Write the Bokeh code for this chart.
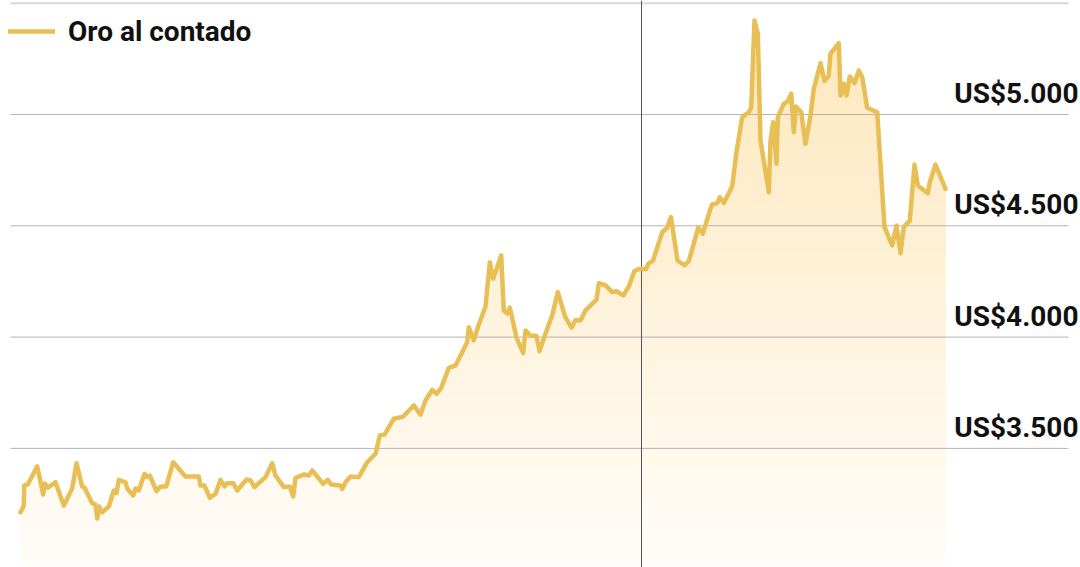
import numpy as np
from bokeh.plotting import figure
from bokeh.models import Range1d, Legend, LegendItem
from bokeh.embed import file_html
from bokeh.resources import INLINE

# ---- data (time position of each observation, spot gold price in US$) ----
t = [0, 3.3, 3.6, 7.3, 16.7, 22.7, 24.3, 27.3, 35, 43.3,
     51.7, 56, 61.7, 64, 71.7, 75, 76.7, 78.7, 81.7, 88.3,
     93.3, 96, 98.3, 105, 106.7, 112.7, 115, 118.3, 124, 126.7,
     129.3, 136, 140, 145.7, 152.7, 165, 178.3, 180, 184, 189.3,
     195, 200, 204, 206.7, 212.7, 216.7, 226, 230, 234, 238.3,
     245, 251.7, 255, 263.3, 269.3, 272.7, 275, 284, 288.3, 291.7,
     302.7, 307.3, 310.7, 320, 321.7, 325, 330, 338.3, 346.7, 355,
     359.3, 364, 373.3, 382.7, 393.3, 400, 405, 411.7, 416, 420.7,
     428.3, 435, 446.7, 448.3, 453.3, 457.3, 465, 469.3, 472.7, 480.7,
     483.3, 486.7, 489.3, 496, 502.7, 505, 510, 516, 519, 524,
     532, 537.3, 544.5, 551, 555, 560, 565, 576, 578.3, 585,
     591.7, 596, 602.7, 608.3, 614, 619.3, 625.5, 628, 632.5, 641.7,
     646.7, 650.5, 657, 664, 668.3, 677.8, 682.2, 690, 691.7, 696.7,
     699.3, 703.3, 711.7, 716, 721.7, 728.3, 730.7, 734, 737.3, 740,
     748.3, 750, 752.7, 756, 757.3, 763.3, 767.3, 770.7, 773.3, 775.5,
     780.7, 785, 790, 793.3, 800, 804, 808.3, 810, 818.3, 820,
     823.3, 826, 829.3, 834, 838.3, 841.7, 846.7, 856.7, 864, 871.7,
     876, 880, 883.3, 889.3, 894, 897.3, 907.3, 909.3, 915, 925]

oro = [3213, 3243, 3333, 3338, 3419, 3293, 3342, 3324, 3348, 3243,
       3320, 3433, 3329, 3324, 3254, 3248, 3185, 3239, 3213, 3239,
       3311, 3299, 3359, 3348, 3320, 3288, 3320, 3311, 3386, 3371,
       3378, 3308, 3329, 3329, 3438, 3374, 3374, 3333, 3333, 3278,
       3296, 3359, 3329, 3344, 3344, 3311, 3360, 3356, 3326, 3344,
       3371, 3433, 3378, 3326, 3329, 3284, 3368, 3383, 3378, 3401,
       3341, 3359, 3338, 3333, 3318, 3348, 3374, 3371, 3438, 3476,
       3558, 3562, 3633, 3643, 3693, 3652, 3715, 3763, 3745, 3772,
       3862, 3872, 3977, 4044, 3985, 4044, 4137, 4336, 4262, 4367,
       4120, 4105, 4132, 3998, 3928, 4030, 4007, 4005, 3937, 4003,
       4102, 4202, 4093, 4042, 4077, 4075, 4120, 4168, 4242, 4232,
       4202, 4206, 4187, 4227, 4297, 4307, 4305, 4331, 4343, 4471,
       4491, 4539, 4344, 4322, 4341, 4492, 4464, 4576, 4596, 4602,
       4628, 4602, 4677, 4831, 4988, 5010, 5030, 5422, 5363, 4883,
       4651, 4883, 4965, 4779, 4988, 5048, 5060, 5093, 4920, 5036,
       5010, 4868, 4996, 5115, 5230, 5150, 5175, 5273, 5320, 5085,
       5138, 5085, 5171, 5141, 5198, 5168, 5030, 5010, 4494, 4412,
       4501, 4377, 4494, 4524, 4775, 4681, 4646, 4696, 4775, 4666]

assert len(t) == len(oro)

ticks = [3500, 4000, 4500, 5000]
tick_labels = ["US$" + f"{v:,}".replace(",", ".") for v in ticks]
top_tick = 5500
marca_t = 621          # vertical reference marker
serie = "Oro al contado"

# ---- styling ----
FONT = "Roboto"
GOLD = "#e8bf55"
W, H = 1080, 567
y_bot, y_top = 2965, 5512
x_lo, x_hi = -20, 1060
per_px = (y_top - y_bot) / H

p = figure(width=W, height=H, output_backend="svg", toolbar_location=None,
           x_range=Range1d(x_lo, x_hi), y_range=Range1d(y_bot, y_top),
           min_border=0, min_border_left=0, min_border_right=0,
           min_border_top=0, min_border_bottom=0)
p.axis.visible = False
p.xgrid.visible = False
p.ygrid.visible = False
p.outline_line_color = None
p.background_fill_color = "white"
p.border_fill_color = "white"

# ---- vertical gradient fill under the line ----
n_bands = 90
fill_top = max(oro) + 20
levels = np.linspace(y_bot, y_top, n_bands + 1)[:-1]
levels = levels[levels < fill_top]
base = np.array([251, 191, 72])
cols = []
for L in levels:
    a = 0.035 + 0.35 * (L - y_bot) / (y_top - y_bot)
    c = (255 * (1 - a) + base * a).round().astype(int)
    cols.append("#%02x%02x%02x" % tuple(c))
nb = len(levels)
p.quad(left=[t[0]] * nb, right=[t[-1]] * nb, bottom=list(levels),
       top=[fill_top] * nb, fill_color=cols, line_color=None)
# white cover above the price line (extended a little past both ends)
mx = [t[0] - 6] + t + [t[-1] + 6]
my = [oro[0]] + oro + [oro[-1]]
p.varea(x=mx, y1=my, y2=[y_top + 100] * len(mx), fill_color="white")

# ---- grid lines ----
p.segment(x0=[-10] * len(ticks), x1=[1048] * len(ticks), y0=ticks, y1=ticks,
          line_color="#b4b4b4", line_width=1)
p.segment(x0=[-10], x1=[1048], y0=[top_tick], y1=[top_tick],
          line_color="#d8d8d8", line_width=2)
p.segment(x0=[marca_t], x1=[marca_t], y0=[y_bot], y1=[y_top],
          line_color="#555555", line_width=1)

# ---- price line ----
ln = p.line(t, oro, line_color=GOLD, line_width=4.5, line_join="round", line_cap="round")

# ---- right-side value labels (sitting above their grid line) ----
p.text(x=[1058] * len(ticks), y=[v + 21 * per_px for v in ticks], text=tick_labels,
       text_align="right", text_baseline="alphabetic", text_font={"value": FONT},
       text_font_size="28px", text_font_style="bold", text_color="#111111")

# ---- legend ----
legend = Legend(items=[LegendItem(label=serie, renderers=[ln])], location="top_left",
                glyph_width=47, glyph_height=46, label_height=46, label_standoff=13,
                padding=0, margin=8, spacing=0, border_line_color=None,
                background_fill_alpha=0, label_text_font=FONT,
                label_text_font_size="28px", label_text_font_style="bold",
                label_text_color="#111111")
p.add_layout(legend)

open("out.html", "w").write(file_html(p, INLINE))
